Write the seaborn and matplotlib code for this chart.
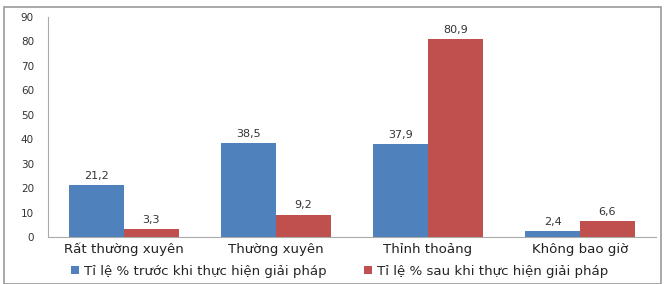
import matplotlib
matplotlib.use("Agg")
import matplotlib.pyplot as plt
import seaborn as sns
import pandas as pd
from matplotlib.patches import Rectangle

categories = ["Rất thường xuyên", "Thường xuyên", "Thỉnh thoảng", "Không bao giờ"]
series_names = ["Tỉ lệ % trước khi thực hiện giải pháp", "Tỉ lệ % sau khi thực hiện giải pháp"]
before = [21.2, 38.5, 37.9, 2.4]
after = [3.3, 9.2, 80.9, 6.6]
labels_before = ["21,2", "38,5", "37,9", "2,4"]
labels_after = ["3,3", "9,2", "80,9", "6,6"]
yticks = [0, 10, 20, 30, 40, 50, 60, 70, 80, 90]

df = pd.DataFrame({
    "cat": categories * 2,
    "series": [series_names[0]] * 4 + [series_names[1]] * 4,
    "val": before + after,
})

sns.set_theme(style="white")
plt.rcParams['font.family'] = ['DejaVu Sans']

fig = plt.figure(figsize=(6.64, 2.84), dpi=100)
ax = fig.add_axes([0.072, 0.165, 0.916, 0.775])
sns.barplot(data=df, x="cat", y="val", hue="series", order=categories,
            hue_order=series_names, palette=["#4F81BD", "#C0504D"],
            width=0.72, ax=ax, saturation=1, legend=True, linewidth=0)

for cont, labs in zip(ax.containers, [labels_before, labels_after]):
    ax.bar_label(cont, labels=labs, padding=3, fontsize=8, color="#333333")

ax.set_ylim(0, 90)
ax.set_yticks(yticks)
ax.set_xlim(-0.5, 3.5)
ax.set_xlabel("")
ax.set_ylabel("")
ax.tick_params(axis="y", labelsize=7.5, colors="#333333", length=0, pad=10)
ax.tick_params(axis="x", labelsize=9.6, colors="#222222", length=0, pad=4)
for s in ["top", "right"]:
    ax.spines[s].set_visible(False)
for s in ["left", "bottom"]:
    ax.spines[s].set_color("#AAAAAA")
    ax.spines[s].set_linewidth(0.8)

leg = ax.legend(loc="upper center", bbox_to_anchor=(0.48, -0.125), ncol=2,
                frameon=False, fontsize=9.6, handlelength=0.6, handleheight=0.5,
                columnspacing=2.8, handletextpad=0.4, borderaxespad=0, borderpad=0)

fig.patches.append(Rectangle((0.006, 0.0), 0.99, 0.975, transform=fig.transFigure,
                             fill=False, edgecolor="#999999", linewidth=1.2))

fig.savefig("out.png", dpi=100)
